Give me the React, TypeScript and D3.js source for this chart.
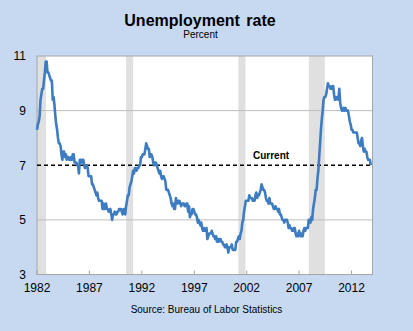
import React from "react";
import * as d3 from "d3";

const startYear = 1982;
const unrate: number[] = [
  // 1982
  8.3, 8.5, 8.6, 8.8, 9.4, 9.6, 9.8, 9.8, 10.1, 10.4, 10.8, 10.8,
  // 1983
  10.4, 10.4, 10.3, 10.2, 10.1, 10.1, 9.4, 9.5, 9.2, 8.8, 8.5, 8.3,
  // 1984
  8.0, 7.8, 7.8, 7.7, 7.4, 7.2, 7.5, 7.5, 7.3, 7.4, 7.2, 7.3,
  // 1985
  7.3, 7.2, 7.2, 7.3, 7.2, 7.4, 7.4, 7.1, 7.1, 7.1, 7.0, 7.0,
  // 1986
  6.7, 7.2, 7.2, 7.1, 7.2, 7.2, 7.0, 6.9, 7.0, 7.0, 6.9, 6.6,
  // 1987
  6.6, 6.6, 6.6, 6.3, 6.3, 6.2, 6.1, 6.0, 5.9, 6.0, 5.8, 5.7,
  // 1988
  5.7, 5.7, 5.7, 5.4, 5.6, 5.4, 5.4, 5.6, 5.4, 5.4, 5.3, 5.3,
  // 1989
  5.4, 5.2, 5.0, 5.2, 5.2, 5.3, 5.2, 5.2, 5.3, 5.3, 5.4, 5.4,
  // 1990
  5.4, 5.3, 5.2, 5.4, 5.4, 5.2, 5.5, 5.7, 5.9, 5.9, 6.2, 6.3,
  // 1991
  6.4, 6.6, 6.8, 6.7, 6.9, 6.9, 6.8, 6.9, 6.9, 7.0, 7.0, 7.3,
  // 1992
  7.3, 7.4, 7.4, 7.4, 7.6, 7.8, 7.7, 7.6, 7.6, 7.3, 7.4, 7.4,
  // 1993
  7.3, 7.1, 7.0, 7.1, 7.1, 7.0, 6.9, 6.8, 6.7, 6.8, 6.6, 6.5,
  // 1994
  6.6, 6.6, 6.5, 6.4, 6.1, 6.1, 6.1, 6.0, 5.9, 5.8, 5.6, 5.5,
  // 1995
  5.6, 5.4, 5.4, 5.8, 5.6, 5.6, 5.7, 5.7, 5.6, 5.5, 5.6, 5.6,
  // 1996
  5.6, 5.5, 5.5, 5.6, 5.6, 5.3, 5.5, 5.1, 5.2, 5.2, 5.4, 5.4,
  // 1997
  5.3, 5.2, 5.2, 5.1, 4.9, 5.0, 4.9, 4.8, 4.9, 4.7, 4.6, 4.7,
  // 1998
  4.6, 4.6, 4.7, 4.3, 4.4, 4.5, 4.5, 4.5, 4.6, 4.5, 4.4, 4.4,
  // 1999
  4.3, 4.4, 4.2, 4.3, 4.2, 4.3, 4.3, 4.2, 4.2, 4.1, 4.1, 4.0,
  // 2000
  4.0, 4.1, 4.0, 3.8, 4.0, 4.0, 4.0, 4.1, 3.9, 3.9, 3.9, 3.9,
  // 2001
  4.2, 4.2, 4.3, 4.4, 4.3, 4.5, 4.6, 4.9, 5.0, 5.3, 5.5, 5.7,
  // 2002
  5.7, 5.7, 5.7, 5.9, 5.8, 5.8, 5.8, 5.7, 5.7, 5.7, 5.9, 6.0,
  // 2003
  5.8, 5.9, 5.9, 6.0, 6.1, 6.3, 6.2, 6.1, 6.1, 6.0, 5.8, 5.7,
  // 2004
  5.7, 5.6, 5.8, 5.6, 5.6, 5.6, 5.5, 5.4, 5.4, 5.5, 5.4, 5.4,
  // 2005
  5.3, 5.4, 5.2, 5.2, 5.1, 5.0, 5.0, 4.9, 5.0, 5.0, 5.0, 4.9,
  // 2006
  4.7, 4.8, 4.7, 4.7, 4.6, 4.6, 4.7, 4.7, 4.5, 4.4, 4.5, 4.4,
  // 2007
  4.6, 4.5, 4.4, 4.5, 4.4, 4.6, 4.7, 4.6, 4.7, 4.7, 4.7, 5.0,
  // 2008
  5.0, 4.9, 5.1, 5.0, 5.4, 5.6, 5.8, 6.1, 6.1, 6.5, 6.8, 7.3,
  // 2009
  7.8, 8.3, 8.7, 9.0, 9.4, 9.5, 9.5, 9.6, 9.8, 10.0, 9.9, 9.9,
  // 2010
  9.8, 9.8, 9.9, 9.9, 9.6, 9.4, 9.4, 9.5, 9.5, 9.4, 9.8, 9.3,
  // 2011
  9.1, 9.0, 9.0, 9.1, 9.0, 9.1, 9.0, 9.0, 9.0, 8.8, 8.6, 8.5,
  // 2012
  8.3, 8.3, 8.2, 8.2, 8.2, 8.2, 8.2, 8.0, 7.8, 7.8, 7.7, 7.9,
  // 2013
  8.0, 7.7, 7.5, 7.6, 7.5, 7.5, 7.3, 7.2, 7.2, 7.2, 7.0,
];

const recessionStart = [1982.0, 1990.5, 2001.2, 2007.92];
const recessionEnd = [1982.86, 1991.17, 2001.88, 2009.45];

const xTicks = [1982, 1987, 1992, 1997, 2002, 2007, 2012];
const yTicks = [3, 5, 7, 9, 11];
const gridValues = [5, 9];
const currentRate = 7;

const W = 413;
const H = 331;
const left = 37;
const right = 372.5;
const top = 56;
const bottom = 274.5;

export default function App() {
  const x = d3.scaleLinear().domain([1982, 2014]).range([left, right]);
  const y = d3.scaleLinear().domain([3, 11]).range([bottom, top]);

  const pts: [number, number][] = unrate.map((v, i) => [startYear + i / 12, v]);
  const line = d3
    .line<[number, number]>()
    .x((d) => x(d[0]))
    .y((d) => y(d[1]));

  const font = "Arial, 'Liberation Sans', sans-serif";

  return (
    <svg
      width={W}
      height={H}
      style={{ position: "absolute", left: 0, top: 0, display: "block" }}
      fontFamily={font}
    >
      <rect x={0} y={0} width={W} height={H} fill="#c6d9f1" />
      <text x={200} y={25.5} textAnchor="middle" fontSize={16} fontWeight="bold" fill="#000" wordSpacing={2}>
        Unemployment rate
      </text>
      <text x={200.5} y={37.5} textAnchor="middle" fontSize={10} fill="#000">
        Percent
      </text>

      <rect x={left} y={top} width={right - left} height={bottom - top} fill="#fff" />

      {recessionStart.map((s, i) => (
        <rect
          key={i}
          x={x(s)}
          y={top}
          width={x(recessionEnd[i]) - x(s)}
          height={bottom - top}
          fill="#e0e0e0"
        />
      ))}

      {gridValues.map((g) => (
        <line key={g} x1={left} x2={right} y1={y(g)} y2={y(g)} stroke="#bdbdbd" strokeWidth={1} />
      ))}

      <rect
        x={left}
        y={top}
        width={right - left}
        height={bottom - top}
        fill="none"
        stroke="#a6a6a6"
        strokeWidth={1}
      />

      {xTicks.map((t) => (
        <g key={t}>
          <line x1={x(t)} x2={x(t)} y1={bottom} y2={bottom - 4} stroke="#a6a6a6" />
          <text x={x(t)} y={292} textAnchor="middle" fontSize={12} fill="#000">
            {t}
          </text>
        </g>
      ))}
      {yTicks.map((t) => (
        <text key={t} x={26} y={y(t)} dy="0.36em" textAnchor="end" fontSize={12} fill="#000">
          {t}
        </text>
      ))}

      <line
        x1={left}
        x2={right}
        y1={y(currentRate)}
        y2={y(currentRate)}
        stroke="#000"
        strokeWidth={1.5}
        strokeDasharray="4,3"
      />
      <text x={253} y={159} fontSize={10} fontWeight="bold" fill="#000">
        Current
      </text>

      <path
        d={line(pts) || ""}
        fill="none"
        stroke="#3d7cc0"
        strokeWidth={2.6}
        strokeLinejoin="round"
      />

      <text x={206.5} y={313} textAnchor="middle" fontSize={10} fill="#000">
        Source: Bureau of Labor Statistics
      </text>
    </svg>
  );
}
